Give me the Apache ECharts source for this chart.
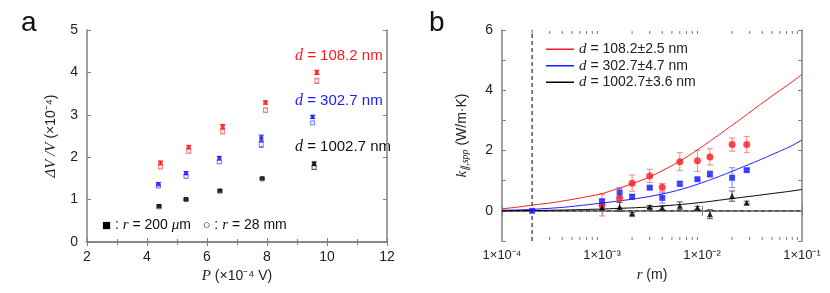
<!DOCTYPE html>
<html><head><meta charset="utf-8">
<script src="https://cdn.jsdelivr.net/npm/echarts@6/dist/echarts.min.js"></script>
<style>html,body{margin:0;padding:0;background:#fff}#c{width:830px;height:293px}</style>
</head><body><div id="c"></div>
<script>
// ---------- Panel a data ----------
const aXRed   = [4.45, 5.39, 6.52, 7.95, 9.66];
const aXBlue  = [4.38, 5.30, 6.41, 7.81, 9.52];
const aXBlack = [4.40, 5.30, 6.43, 7.84, 9.57];
const aRedFilled   = [1.87, 2.24, 2.72, 3.29, 4.00];
const aRedOpen     = [1.77, 2.14, 2.60, 3.11, 3.80];
const aBlueFilled  = [1.36, 1.62, 1.97, 2.45, 2.95];
const aBlueOpen    = [1.32, 1.55, 1.89, 2.30, 2.81];
const aBlackFilled = [0.85, 1.01, 1.21, 1.50, 1.84];
const aBlackOpen   = [0.83, 1.00, 1.20, 1.49, 1.76];
const aRedFilledErr   = [0.04, 0.04, 0.05, 0.04, 0.05];
const aRedOpenErr     = [0.04, 0.04, 0.05, 0.05, 0.06];
const aBlueFilledErr  = [0.04, 0.04, 0.05, 0.07, 0.04];
const aBlueOpenErr    = [0.03, 0.04, 0.04, 0.07, 0.03];
const aBlackFilledErr = [0.03, 0.02, 0.03, 0.02, 0.05];
const aBlackOpenErr   = [0.03, 0.02, 0.02, 0.02, 0.05];
const aLabels = ['108.2', '302.7', '1002.7'];

// ---------- Panel b data ----------
const bR      = [1e-3, 1.5e-3, 2e-3, 3e-3, 4e-3, 6e-3, 9e-3, 1.2e-2, 2e-2, 2.8e-2];
const bRed    = [0.19, 0.42, 0.92, 1.16, 0.78, 1.63, 1.66, 1.79, 2.20, 2.20];
const bRedErr = [0.36, 0.33, 0.27, 0.22, 0.13, 0.30, 0.35, 0.27, 0.22, 0.27];
const bBlueR  = [2e-4, 1e-3, 1.5e-3, 2e-3, 3e-3, 4e-3, 6e-3, 9e-3, 1.2e-2, 2e-2, 2.8e-2];
const bBlue   = [0.00, 0.32, 0.61, 0.47, 0.77, 0.43, 0.90, 1.05, 1.22, 1.10, 1.35];
const bBlueErr= [0.02, 0.05, 0.15, 0.07, 0.05, 0.17, 0.08, 0.04, 0.10, 0.33, 0.04];
const bBlack  = [0.11, 0.13, -0.10, 0.13, 0.10, 0.17, 0.10, -0.11, 0.49, 0.27];
const bBlackErr=[0.08, 0.15, 0.04, 0.05, 0.06, 0.13, 0.05, 0.15, 0.17, 0.05];
const fitR     = [1e-4, 1.41e-4, 2e-4, 3.16e-4, 4.47e-4, 6.6e-4, 1e-3, 1.41e-3, 2.04e-3, 3.02e-3, 5.13e-3, 7.59e-3, 1.12e-2, 1.62e-2, 2.4e-2, 3.55e-2, 5.2e-2, 7.59e-2, 1e-1];
const fitRed   = [0.07, 0.12, 0.19, 0.27, 0.35, 0.45, 0.57, 0.73, 0.91, 1.13, 1.52, 1.86, 2.24, 2.62, 3.03, 3.45, 3.85, 4.23, 4.53];
const fitBlue  = [0.02, 0.03, 0.05, 0.09, 0.13, 0.19, 0.26, 0.32, 0.39, 0.48, 0.64, 0.80, 0.99, 1.19, 1.42, 1.65, 1.89, 2.13, 2.35];
const fitBlack = [0.00, 0.005, 0.01, 0.02, 0.03, 0.045, 0.06, 0.08, 0.10, 0.13, 0.19, 0.24, 0.30, 0.37, 0.44, 0.51, 0.58, 0.65, 0.71];
const bLegend  = ['108.2±2.5', '302.7±4.7', '1002.7±3.6'];
const bDashR = 2e-4;
const bXRange = [1e-4, 1e-1];
const bYRange = [-1, 6];

const RED = '#ff1a1a', BLUE = '#1a1aff', BLACK = '#000';
const AX = '#808080';
const SANS = '"Liberation Sans", Arial, Helvetica, sans-serif';
const SERIF = '"Liberation Serif", "Times New Roman", serif';

const zip = (xs, ys, es) => xs.map((x, i) => es ? [x, ys[i], es[i]] : [x, ys[i]]);
const SUP = {'-':'⁻','0':'⁰','1':'¹','2':'²','3':'³','4':'⁴','5':'⁵','6':'⁶','7':'⁷','8':'⁸','9':'⁹'};
const sup = s => String(s).split('').map(c => SUP[c] || c).join('');

function errBar(color, cap) {
  return function (params, api) {
    const x = api.value(0), y = api.value(1), e = api.value(2);
    const t = api.coord([x, y + e]), b = api.coord([x, y - e]);
    const cx = t[0];
    const st = {stroke: color, lineWidth: 1};
    return {type: 'group', children: [
      {type: 'line', shape: {x1: cx, y1: t[1], x2: cx, y2: b[1]}, style: st},
      {type: 'line', shape: {x1: cx - cap, y1: t[1], x2: cx + cap, y2: t[1]}, style: st},
      {type: 'line', shape: {x1: cx - cap, y1: b[1], x2: cx + cap, y2: b[1]}, style: st}
    ]};
  };
}
function errSeries(data, color, cap, xi, yi) {
  return {type: 'custom', xAxisIndex: xi, yAxisIndex: yi, data: data, renderItem: errBar(color, cap),
    encode: {x: 0, y: 1}, silent: true, z: 2};
}

// log minor tick positions (2..9 x 10^n)
const logMinor = [];
for (let e = -4; e < -1; e++) for (let m = 2; m <= 9; m++) logMinor.push(m * Math.pow(10, e));

const baseAxis = {
  axisLine: {show: true, lineStyle: {color: AX, width: 1.5}},
  axisTick: {show: true, inside: true, length: 4, lineStyle: {color: AX, width: 1}},
  splitLine: {show: false},
  axisLabel: {color: '#222', fontFamily: SANS, fontSize: 14},
};
const nameStyle = {fontFamily: SANS, fontSize: 14, color: '#222',
  rich: {it: {fontFamily: SERIF, fontStyle: 'italic', fontSize: 15, color: '#222'},
         sub: {fontFamily: SERIF, fontStyle: 'italic', fontSize: 10, color: '#222', padding: [6, 0, 0, 0]}}};

const option = {
  animation: false,
  backgroundColor: '#fff',
  grid: [
    {left: 87, top: 30, width: 300, height: 212},
    {left: 502, top: 30, width: 300, height: 211}
  ],
  xAxis: [
    Object.assign({}, baseAxis, {gridIndex: 0, type: 'value', min: 2, max: 12, interval: 2,
      minorTick: {show: true, splitNumber: 2, length: 3, lineStyle: {color: AX}},
      axisLabel: Object.assign({}, baseAxis.axisLabel, {margin: 8}),
      name: '{it|P} (×10' + sup(-4) + ' V)', nameLocation: 'middle', nameGap: 27, nameTextStyle: nameStyle}),
    Object.assign({}, baseAxis, {gridIndex: 1, type: 'log', logBase: 10, min: bXRange[0], max: bXRange[1],
      axisTick: {show: true, inside: true, length: 5, lineStyle: {color: AX, width: 1}},
      axisLabel: Object.assign({}, baseAxis.axisLabel, {fontSize: 13, margin: 8,
        formatter: v => '1×10' + sup(Math.round(Math.log10(v)))}),
      name: '{it|r} (m)', nameLocation: 'middle', nameGap: 27, nameTextStyle: nameStyle}),
    Object.assign({}, baseAxis, {gridIndex: 0, type: 'value', position: 'top', min: 2, max: 12, interval: 2,
      minorTick: {show: true, splitNumber: 2, length: 3, lineStyle: {color: AX}},
      axisLabel: {show: false}}),
    Object.assign({}, baseAxis, {gridIndex: 1, type: 'log', position: 'top', logBase: 10, min: bXRange[0], max: bXRange[1],
      axisTick: {show: true, inside: true, length: 5, lineStyle: {color: AX, width: 1}},
      axisLabel: {show: false}})
  ],
  yAxis: [
    Object.assign({}, baseAxis, {gridIndex: 0, type: 'value', min: 0, max: 5, interval: 1,
      axisLabel: Object.assign({}, baseAxis.axisLabel, {margin: 9}),
      name: '{it|ΔV /V} (×10' + sup(-4) + ')', nameLocation: 'middle', nameGap: 28, nameRotate: 90,
      nameTextStyle: nameStyle}),
    Object.assign({}, baseAxis, {gridIndex: 1, type: 'value', min: bYRange[0], max: bYRange[1], interval: 1,
      axisLabel: Object.assign({}, baseAxis.axisLabel, {margin: 9,
        formatter: v => (Math.round(v) % 2 === 0 ? String(v) : '')}),
      name: '{it|k}{sub|∥,spp} (W/m·K)', nameLocation: 'middle', nameGap: 32, nameRotate: 90,
      nameTextStyle: nameStyle}),
    Object.assign({}, baseAxis, {gridIndex: 0, type: 'value', position: 'right', min: 0, max: 5, interval: 1,
      axisLabel: {show: false}}),
    Object.assign({}, baseAxis, {gridIndex: 1, type: 'value', position: 'right', min: bYRange[0], max: bYRange[1], interval: 1,
      axisLabel: {show: false}})
  ],
  legend: {
    left: 541, top: 36, orient: 'vertical', itemGap: 0, itemWidth: 28, itemHeight: 1.5, icon: 'rect',
    data: ['fitRed', 'fitBlue', 'fitBlack'],
    formatter: n => '{it|d} = ' + bLegend[['fitRed', 'fitBlue', 'fitBlack'].indexOf(n)] + ' nm',
    textStyle: {fontFamily: SANS, fontSize: 14, color: '#222', lineHeight: 16.5,
      rich: {it: {fontFamily: SERIF, fontStyle: 'italic', fontSize: 15, color: '#222'}}}
  },
  graphic: [
    {type: 'text', left: 21, top: 9, style: {text: 'a', font: '28px ' + SANS, fill: '#111'}},
    {type: 'text', left: 429, top: 9, style: {text: 'b', font: '28px ' + SANS, fill: '#111'}},
    {type: 'text', left: 295, top: 48, style: {text: '{it|d} = ' + aLabels[0] + ' nm', fill: RED,
      font: '15px ' + SANS, rich: {it: {fontFamily: SERIF, fontStyle: 'italic', fontSize: 16, fill: RED}}}},
    {type: 'text', left: 295, top: 93, style: {text: '{it|d} = ' + aLabels[1] + ' nm', fill: BLUE,
      font: '15px ' + SANS, rich: {it: {fontFamily: SERIF, fontStyle: 'italic', fontSize: 16, fill: BLUE}}}},
    {type: 'text', left: 295, top: 139, style: {text: '{it|d} = ' + aLabels[2] + ' nm', fill: '#111',
      font: '15px ' + SANS, rich: {it: {fontFamily: SERIF, fontStyle: 'italic', fontSize: 16, fill: '#111'}}}},
    {type: 'text', left: 102, top: 218, style: {
      text: '{sq|■} : {it|r} = 200 {it|μ}m   {ci|○} : {it|r} = 28 mm', fill: '#111', font: '14px ' + SANS,
      rich: {it: {fontFamily: SERIF, fontStyle: 'italic', fontSize: 15, fill: '#111'},
             sq: {fontSize: 15, fill: '#000'}, ci: {fontSize: 13, fill: '#000'}}}}
  ],
  series: [
    // panel a error bars
    errSeries(zip(aXRed, aRedOpen, aRedOpenErr), '#ff7070', 2.5, 0, 0),
    errSeries(zip(aXRed, aRedFilled, aRedFilledErr), RED, 2.5, 0, 0),
    errSeries(zip(aXBlue, aBlueOpen, aBlueOpenErr), '#7070ff', 2.5, 0, 0),
    errSeries(zip(aXBlue, aBlueFilled, aBlueFilledErr), BLUE, 2.5, 0, 0),
    errSeries(zip(aXBlack, aBlackOpen, aBlackOpenErr), '#555', 2.5, 0, 0),
    errSeries(zip(aXBlack, aBlackFilled, aBlackFilledErr), '#000', 2.5, 0, 0),
    // panel a markers
    {type: 'scatter', xAxisIndex: 0, yAxisIndex: 0, data: zip(aXRed, aRedOpen), symbol: 'rect', symbolSize: 4,
      itemStyle: {color: '#fff', borderColor: '#ff6060', borderWidth: 1}, z: 3, silent: true},
    {type: 'scatter', xAxisIndex: 0, yAxisIndex: 0, data: zip(aXBlue, aBlueOpen), symbol: 'rect', symbolSize: 4,
      itemStyle: {color: '#fff', borderColor: '#6060ff', borderWidth: 1}, z: 3, silent: true},
    {type: 'scatter', xAxisIndex: 0, yAxisIndex: 0, data: zip(aXBlack, aBlackOpen), symbol: 'rect', symbolSize: 4,
      itemStyle: {color: '#fff', borderColor: '#444', borderWidth: 1}, z: 3, silent: true},
    {type: 'scatter', xAxisIndex: 0, yAxisIndex: 0, data: zip(aXRed, aRedFilled), symbol: 'rect', symbolSize: 4,
      itemStyle: {color: RED}, z: 4, silent: true},
    {type: 'scatter', xAxisIndex: 0, yAxisIndex: 0, data: zip(aXBlue, aBlueFilled), symbol: 'rect', symbolSize: 4,
      itemStyle: {color: BLUE}, z: 4, silent: true},
    {type: 'scatter', xAxisIndex: 0, yAxisIndex: 0, data: zip(aXBlack, aBlackFilled), symbol: 'rect', symbolSize: 4,
      itemStyle: {color: '#000'}, z: 4, silent: true},
    // panel b log minor ticks (bottom and top)
    {type: 'custom', xAxisIndex: 1, yAxisIndex: 1, silent: true, z: 10, clip: false,
      data: logMinor.map(v => [v, 0]), encode: {x: 0, y: 1},
      renderItem: function (params, api) {
        const b = api.coord([api.value(0), bYRange[0]]);
        const t = api.coord([api.value(0), bYRange[1]]);
        const st = {stroke: '#777', lineWidth: 1};
        return {type: 'group', children: [
          {type: 'line', shape: {x1: b[0], y1: b[1] - 1, x2: b[0], y2: b[1] - 4}, style: st},
          {type: 'line', shape: {x1: t[0], y1: t[1] + 1, x2: t[0], y2: t[1] + 4}, style: st}
        ]};
      }},
    // dashed reference lines
    {type: 'line', xAxisIndex: 1, yAxisIndex: 1, data: [[bDashR, bYRange[0]], [bDashR, bYRange[1]]],
      showSymbol: false, lineStyle: {color: '#000', width: 1, type: [4, 3]}, z: 1, silent: true},
    {type: 'line', xAxisIndex: 1, yAxisIndex: 1, data: [[bXRange[0], 0], [bXRange[1], 0]],
      showSymbol: false, lineStyle: {color: '#333', width: 1, type: [4, 3]}, z: 1, silent: true},
    // fit curves
    {name: 'fitRed', type: 'line', xAxisIndex: 1, yAxisIndex: 1, data: zip(fitR, fitRed), smooth: 0.2,
      showSymbol: false, lineStyle: {color: RED, width: 1}, itemStyle: {color: RED}, z: 2, silent: true},
    {name: 'fitBlue', type: 'line', xAxisIndex: 1, yAxisIndex: 1, data: zip(fitR, fitBlue), smooth: 0.2,
      showSymbol: false, lineStyle: {color: BLUE, width: 1}, itemStyle: {color: BLUE}, z: 2, silent: true},
    {name: 'fitBlack', type: 'line', xAxisIndex: 1, yAxisIndex: 1, data: zip(fitR, fitBlack), smooth: 0.2,
      showSymbol: false, lineStyle: {color: '#000', width: 1}, itemStyle: {color: '#000'}, z: 2, silent: true},
    // panel b error bars
    errSeries(zip(bR, bRed, bRedErr), '#ff8080', 3, 1, 1),
    errSeries(zip(bBlueR, bBlue, bBlueErr), '#8080ff', 3, 1, 1),
    errSeries(zip(bR, bBlack, bBlackErr), '#555', 3, 1, 1),
    // panel b markers
    {type: 'scatter', xAxisIndex: 1, yAxisIndex: 1, data: zip(bR, bRed), symbol: 'circle', symbolSize: 7,
      itemStyle: {color: RED}, z: 4, silent: true},
    {type: 'scatter', xAxisIndex: 1, yAxisIndex: 1, data: zip(bBlueR, bBlue), symbol: 'rect', symbolSize: 6,
      itemStyle: {color: BLUE}, z: 4, silent: true},
    {type: 'scatter', xAxisIndex: 1, yAxisIndex: 1, data: zip(bR, bBlack), symbol: 'triangle', symbolSize: 6,
      itemStyle: {color: '#000'}, z: 4, silent: true}
  ]
};
const chart = echarts.init(document.getElementById('c'), null, {renderer: 'canvas'});
chart.setOption(option);
</script>
</body></html>
